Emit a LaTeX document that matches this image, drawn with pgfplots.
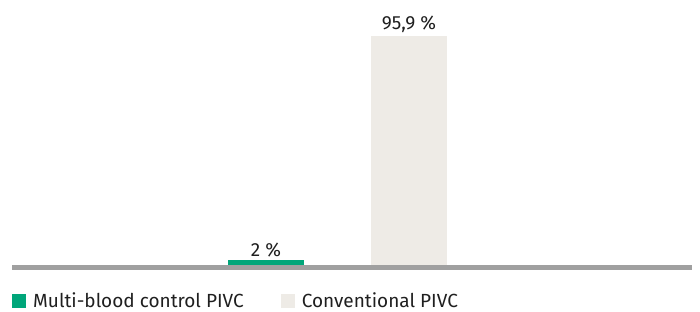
\documentclass[border=0pt]{standalone}
\usepackage{fontspec}
\setmainfont{Fira Sans}
\usepackage{pgfplots}
\pgfplotsset{compat=1.18}
\definecolor{mgreen}{HTML}{00A67A}
\definecolor{mbeige}{HTML}{EEEBE6}
\definecolor{mgray}{HTML}{A0A0A0}
\begin{document}
\begin{tikzpicture}[x=1bp,y=1bp]
\path[use as bounding box] (0,0) rectangle (700,311);
\begin{axis}[
  at={(12bp,43.5bp)}, anchor=south west,
  scale only axis, width=680bp, height=267.5bp,
  xmin=-1.776, xmax=2.979, ymin=-1.047, ymax=110.97,
  axis y line=none, axis x line*=bottom,
  x axis line style={mgray, line width=5bp, -},
  xtick=\empty, ytick=\empty,
  clip=false,
  ybar, bar width=0.531, bar shift=0pt,
  point meta=explicit symbolic,
  nodes near coords={\pgfplotspointmeta},
  every node near coord/.append style={font=\fontsize{19bp}{22bp}\selectfont, text=black!88, yshift=0bp},
  legend columns=2,
  legend style={draw=none, fill=none, inner sep=0pt, at={(0,0)}, anchor=north west, yshift=-23bp,
    font=\fontsize{19bp}{22bp}\selectfont, text=black!88,
    /tikz/every odd column/.append style={column sep=5bp},
    /tikz/every even column/.append style={column sep=35bp}},
  legend image code/.code={\fill[#1] (0bp,-7bp) rectangle (14bp,7bp);},
]
\addplot[fill=mgreen, draw=none] coordinates {(0,2) [2 \%]};
\addlegendentry{Multi-blood control PIVC}
\addplot[fill=mbeige, draw=none] coordinates {(1,95.9) [95,9 \%]};
\addlegendentry{Conventional PIVC}
\end{axis}
\end{tikzpicture}
\end{document}
